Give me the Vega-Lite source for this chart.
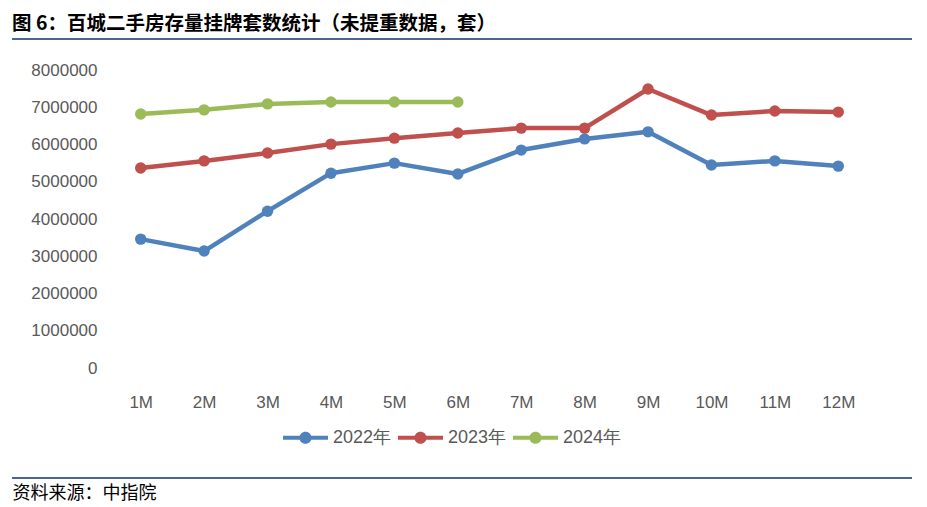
{
  "$schema": "https://vega.github.io/schema/vega-lite/v6.json",
  "width": 761,
  "height": 298,
  "autosize": "none",
  "padding": {"left": 109, "top": 70, "right": 57, "bottom": 139},
  "background": "white",
  "config": {"view": {"stroke": null}, "font": "Liberation Sans"},
  "title": {
    "text": "图 6：百城二手房存量挂牌套数统计（未提重数据，套）",
    "anchor": "start",
    "frame": "group",
    "dx": -97,
    "offset": 4,
    "font": "Noto Sans CJK SC",
    "fontSize": 19.5,
    "fontWeight": "bold",
    "color": "#000000"
  },
  "data": {
    "values": [
      {"month": "1M", "series": "2022年", "value": 3460000},
      {"month": "2M", "series": "2022年", "value": 3140000},
      {"month": "3M", "series": "2022年", "value": 4210000},
      {"month": "4M", "series": "2022年", "value": 5230000},
      {"month": "5M", "series": "2022年", "value": 5500000},
      {"month": "6M", "series": "2022年", "value": 5210000},
      {"month": "7M", "series": "2022年", "value": 5850000},
      {"month": "8M", "series": "2022年", "value": 6150000},
      {"month": "9M", "series": "2022年", "value": 6340000},
      {"month": "10M", "series": "2022年", "value": 5450000},
      {"month": "11M", "series": "2022年", "value": 5560000},
      {"month": "12M", "series": "2022年", "value": 5420000},
      {"month": "1M", "series": "2023年", "value": 5370000},
      {"month": "2M", "series": "2023年", "value": 5560000},
      {"month": "3M", "series": "2023年", "value": 5770000},
      {"month": "4M", "series": "2023年", "value": 6010000},
      {"month": "5M", "series": "2023年", "value": 6170000},
      {"month": "6M", "series": "2023年", "value": 6310000},
      {"month": "7M", "series": "2023年", "value": 6440000},
      {"month": "8M", "series": "2023年", "value": 6440000},
      {"month": "9M", "series": "2023年", "value": 7490000},
      {"month": "10M", "series": "2023年", "value": 6790000},
      {"month": "11M", "series": "2023年", "value": 6900000},
      {"month": "12M", "series": "2023年", "value": 6870000},
      {"month": "1M", "series": "2024年", "value": 6820000},
      {"month": "2M", "series": "2024年", "value": 6930000},
      {"month": "3M", "series": "2024年", "value": 7090000},
      {"month": "4M", "series": "2024年", "value": 7140000},
      {"month": "5M", "series": "2024年", "value": 7140000},
      {"month": "6M", "series": "2024年", "value": 7140000}
    ]
  },
  "layer": [
    {
      "encoding": {
        "x": {
          "field": "month",
          "type": "nominal",
          "sort": ["1M","2M","3M","4M","5M","6M","7M","8M","9M","10M","11M","12M"],
          "scale": {"paddingInner": 0, "paddingOuter": 0},
          "axis": {
            "domain": false,
            "ticks": false,
            "labelAngle": 0,
            "labelAlign": "center",
            "labelFontSize": 17,
            "labelColor": "#595959",
            "labelPadding": 26,
            "labelOverlap": false,
            "title": "资料来源：中指院",
            "titleFont": "Noto Sans CJK SC",
            "titleFontSize": 18,
            "titleFontWeight": "normal",
            "titleColor": "#000000",
            "titleAnchor": "start",
            "titleAlign": "left",
            "titleBaseline": "middle",
            "titleX": -97,
            "titleY": 125
          }
        },
        "y": {
          "field": "value",
          "type": "quantitative",
          "scale": {"domain": [0, 8000000], "nice": false},
          "axis": {
            "values": [0,1000000,2000000,3000000,4000000,5000000,6000000,7000000,8000000],
            "format": "d",
            "domain": false,
            "ticks": false,
            "grid": false,
            "labelOverlap": false,
            "labelFontSize": 17,
            "labelColor": "#595959",
            "labelPadding": 12,
            "title": null
          }
        },
        "color": {
          "field": "series",
          "type": "nominal",
          "scale": {"domain": ["2022年","2023年","2024年"], "range": ["#4F81BD","#C0504D","#9BBB59"]},
          "legend": {
            "title": null,
            "orient": "none",
            "direction": "horizontal",
            "legendX": 174,
            "legendY": 345,
            "symbolType": "M-1,-0.09H-0.22V0.09H-1Z M0.22,-0.09H1V0.09H0.22Z M0.27,0A0.27,0.27 0 1,1 -0.27,0A0.27,0.27 0 1,1 0.27,0Z",
            "symbolSize": 2025,
            "symbolStrokeWidth": 0,
            "labelFontSize": 18,
            "labelColor": "#595959",
            "labelFont": "Liberation Sans",
            "columnPadding": 6,
            "labelOffset": 5
          }
        }
      },
      "layer": [
        {"mark": {"type": "line", "strokeWidth": 4.5, "strokeCap": "round", "strokeJoin": "round"}},
        {"mark": {"type": "point", "filled": true, "size": 130, "opacity": 1}}
      ]
    },
    {
      "data": {"values": [{"pos": "top"}]},
      "mark": {"type": "rule", "color": "#13335F", "strokeWidth": 1.5},
      "encoding": {
        "x": {"value": -97},
        "x2": {"value": 803},
        "y": {"value": -31}
      }
    },
    {
      "data": {"values": [{"pos": "bottom"}]},
      "mark": {"type": "rule", "color": "#13335F", "strokeWidth": 1.5},
      "encoding": {
        "x": {"value": -97},
        "x2": {"value": 803},
        "y": {"value": 408}
      }
    }
  ]
}
